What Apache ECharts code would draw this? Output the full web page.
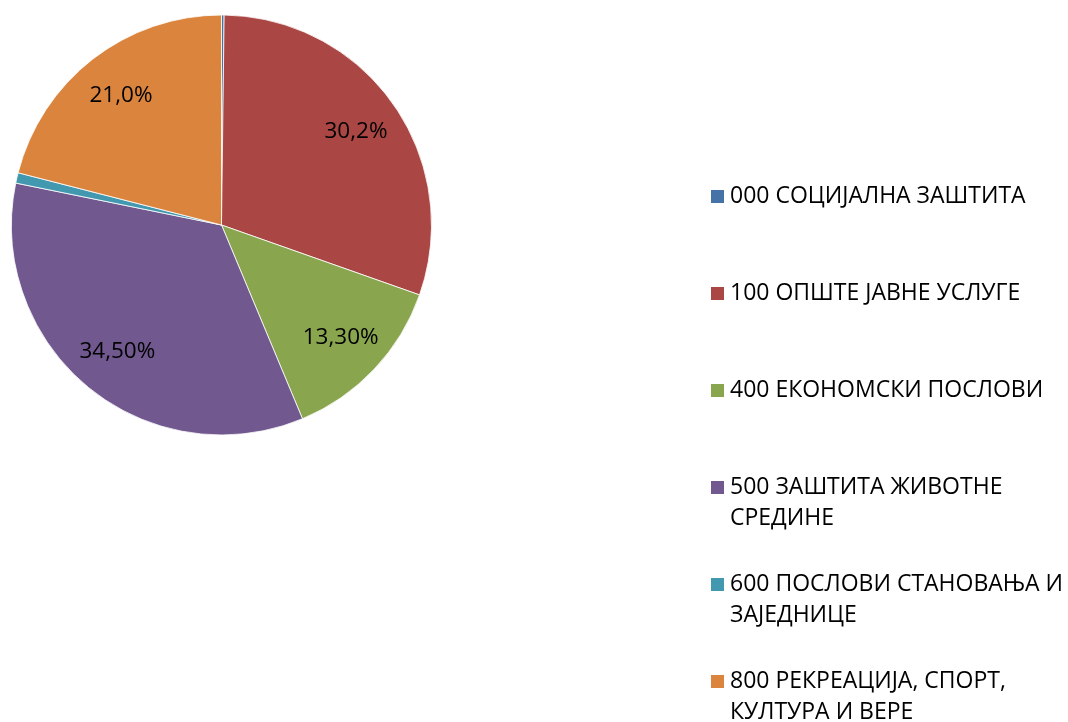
<!DOCTYPE html>
<html>
<head>
<meta charset="utf-8">
<script src="https://cdn.jsdelivr.net/npm/echarts@6/dist/echarts.min.js"></script>
<style>
    html, body { margin: 0; padding: 0; background: #fff; }
    #chart { width: 1068px; height: 722px; }
</style>
</head>
<body>
<div id="chart"></div>
<script>
// категорије и удели (%)
const categories = [
    '000 СОЦИЈАЛНА ЗАШТИТА',
    '100 ОПШТЕ ЈАВНЕ УСЛУГЕ',
    '400 ЕКОНОМСКИ ПОСЛОВИ',
    '500 ЗАШТИТА ЖИВОТНЕ СРЕДИНЕ',
    '600 ПОСЛОВИ СТАНОВАЊА И ЗАЈЕДНИЦЕ',
    '800 РЕКРЕАЦИЈА, СПОРТ, КУЛТУРА И ВЕРЕ'
];
const values = [0.2, 30.2, 13.3, 34.5, 0.8, 21.0];
// натписи на исечцима (онако како стоје на слици)
const sliceLabels = ['', '30,2%', '13,30%', '34,50%', '', '21,0%'];
// прелом редова у легенди
const legendLines = [
    ['000 СОЦИЈАЛНА ЗАШТИТА'],
    ['100 ОПШТЕ ЈАВНЕ УСЛУГЕ'],
    ['400 ЕКОНОМСКИ ПОСЛОВИ'],
    ['500 ЗАШТИТА ЖИВОТНЕ', 'СРЕДИНЕ'],
    ['600 ПОСЛОВИ СТАНОВАЊА И', 'ЗАЈЕДНИЦЕ'],
    ['800 РЕКРЕАЦИЈА, СПОРТ,', 'КУЛТУРА И ВЕРЕ']
];
const colors = ['#4572A7', '#AA4643', '#89A54E', '#71588F', '#4198AF', '#DB843D'];

const font = '"Open Sans", "Noto Sans", sans-serif';
const center = [221.5, 225];
const radius = 210;

let chart = echarts.init(document.getElementById('chart'), null, { renderer: 'canvas' });

let pieData = categories.map((name, i) => ({ name, value: values[i] }));

chart.setOption({
    animation: false,
    color: colors,
    legend: {
        orient: 'vertical',
        left: 709,
        top: 150,
        height: 640,
        padding: 0,
        itemWidth: 15,
        itemHeight: 15,
        itemGap: 4,
        icon: 'rect',
        data: categories,
        // празан први ред да би маркер стајао уз први ред текста
        formatter: name => {
            let lines = legendLines[categories.indexOf(name)];
            return '\n' + lines[0] + '\n' + (lines[1] || ' ');
        },
        textStyle: {
            fontFamily: font,
            fontSize: 23,
            color: '#000',
            lineHeight: 31,
            padding: [0, 0, 0, 0]
        }
    },
    series: [
        {
            type: 'pie',
            center,
            radius,
            startAngle: 90,
            clockwise: true,
            data: pieData,
            label: { show: false },
            labelLine: { show: false },
            itemStyle: { borderColor: '#fff', borderWidth: 0.8 },
            emphasis: { disabled: true }
        },
        {
            // само натписи, на ~0.76 полупречника
            type: 'pie',
            center,
            radius: [112, radius],
            startAngle: 90,
            clockwise: true,
            silent: true,
            data: pieData,
            itemStyle: { color: 'rgba(0,0,0,0)' },
            label: {
                show: true,
                position: 'inside',
                formatter: p => sliceLabels[p.dataIndex],
                fontFamily: font,
                fontSize: 22.5,
                color: '#000'
            },
            labelLine: { show: false },
            emphasis: { disabled: true }
        }
    ]
});
</script>
</body>
</html>
